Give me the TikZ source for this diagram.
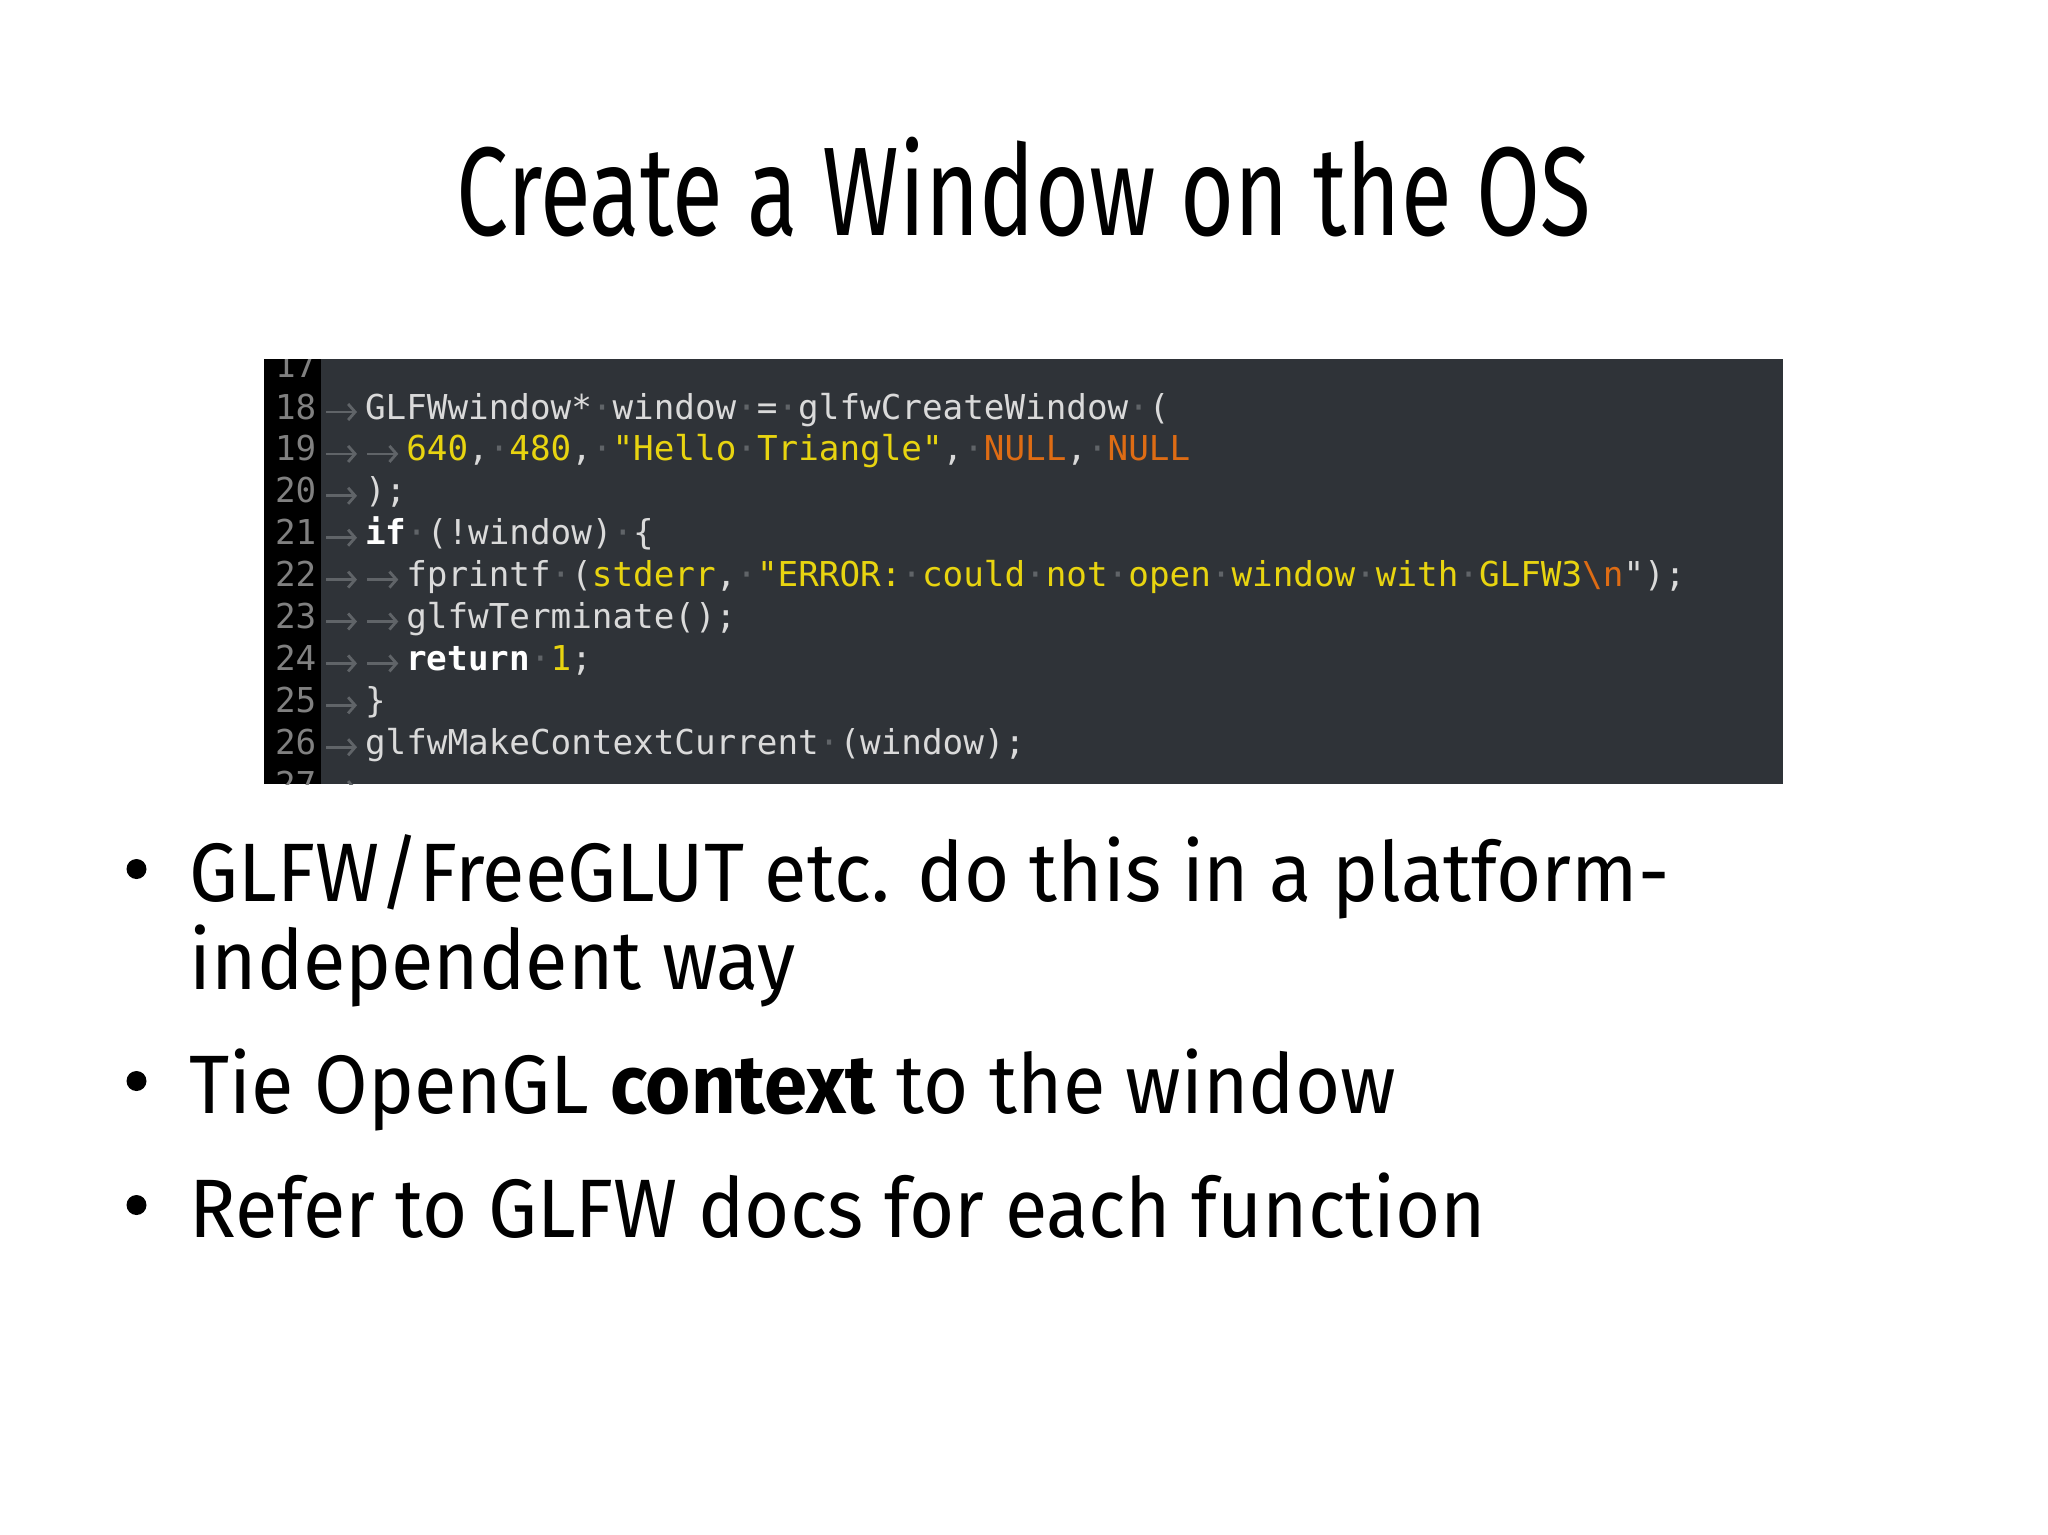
\documentclass[tikz,border=0pt]{standalone}
\usepackage{fontspec}
\setmainfont{Fira Sans}
\newfontfamily\titlefont[FakeStretch=0.735]{Fira Sans}
\newfontfamily\bodyfont[FakeStretch=0.935]{Fira Sans}
\newfontfamily\codefont{DejaVu Sans Mono}
\usetikzlibrary{arrows.meta, positioning}

\definecolor{codebg}{RGB}{47,51,56}
\definecolor{codefg}{RGB}{218,218,218}
\definecolor{lnumgray}{RGB}{128,128,128}
\definecolor{wsgray}{RGB}{96,100,104}
\definecolor{strcol}{RGB}{232,212,16}
\definecolor{nullcol}{RGB}{222,108,20}

\newcommand\codesize{\codefont\fontsize{9.75pt}{11.9pt}\selectfont}
\newcommand\ws{\textcolor{wsgray}{·}}
\newcommand\cstr[1]{\textcolor{strcol}{#1}}
\newcommand\cnull[1]{\textcolor{nullcol}{#1}}
\newcommand\ckw[1]{\textcolor{white}{\bfseries #1}}

\begin{document}
\begin{tikzpicture}[
    title/.style={font=\titlefont\fontsize{35.9pt}{40pt}\selectfont, anchor=base, inner sep=0pt},
    item/.style={font=\bodyfont\fontsize{23.6pt}{28pt}\selectfont, anchor=base west, inner sep=0pt},
    dot/.style={circle, fill=black, inner sep=0pt, minimum size=0.2cm},
    lnum/.style={font=\codesize, text=lnumgray, anchor=base east, inner sep=0pt},
    code/.style={font=\codesize, text=codefg, anchor=base west, inner sep=0pt},
    tabmark/.style={draw=wsgray, line width=0.8pt, -{Straight Barb[length=0.07cm, width=0.16cm]}}
]
\fill[white] (0,0) rectangle (20.48,-15.35);
\useasboundingbox (0,0) rectangle (20.48,-15.35);

\node[title] (title) at (10.24,-2.35) {Create a Window on the OS};

% editor screenshot
\fill[codebg] (2.64,-3.59) rectangle (17.83,-7.84);
\fill[black] (2.64,-3.59) rectangle (3.21,-7.84);
\begin{scope}
\clip (2.64,-3.59) rectangle (17.83,-7.84);
\foreach \n in {17,...,27}
    \node[lnum] (ln\n) at (3.17,{-4.19-(\n-18)*0.419}) {\n};
% tab markers
\foreach \n/\k in {18/1,19/2,20/1,21/1,22/2,23/2,24/2,25/1,26/1,27/1}
    \foreach \t in {1,...,\k}
        \draw[tabmark] ({3.26+(\t-1)*0.413},{-4.12-(\n-18)*0.419}) -- ++(0.31,0);
\end{scope}

\node[code] (c18) at (3.643,-4.190) {GLFWwindow*\ws window\ws =\ws glfwCreateWindow\ws (};
\node[code] (c19) at (4.056,-4.609) {\cstr{640},\ws \cstr{480},\ws \cstr{"Hello\ws Triangle"},\ws \cnull{NULL},\ws \cnull{NULL}};
\node[code] (c20) at (3.643,-5.028) {);};
\node[code] (c21) at (3.643,-5.447) {\ckw{if}\ws (!window)\ws \{};
\node[code] (c22) at (4.056,-5.866) {fprintf\ws (\cstr{stderr},\ws \cstr{"ERROR:\ws could\ws not\ws open\ws window\ws with\ws GLFW3}\cnull{\textbackslash n}");};
\node[code] (c23) at (4.056,-6.285) {glfwTerminate();};
\node[code] (c24) at (4.056,-6.704) {\ckw{return}\ws \cstr{1};};
\node[code] (c25) at (3.643,-7.123) {\}};
\node[code] (c26) at (3.643,-7.542) {glfwMakeContextCurrent\ws (window);};

% bullet list
\node[dot] (d1) at (1.365,-8.69) {};
\node[item] (b1) at (1.89,-9.01) {GLFW/FreeGLUT etc. do this in a platform-};
\node[item] (b1x) at (1.89,-9.89) {independent way};
\node[dot] (d2) at (1.365,-10.81) {};
\node[item] (b2) at (1.89,-11.13) {Tie OpenGL \textbf{context} to the window};
\node[dot] (d3) at (1.365,-12.05) {};
\node[item] (b3) at (1.89,-12.37) {Refer to GLFW docs for each function};
\end{tikzpicture}
\end{document}
